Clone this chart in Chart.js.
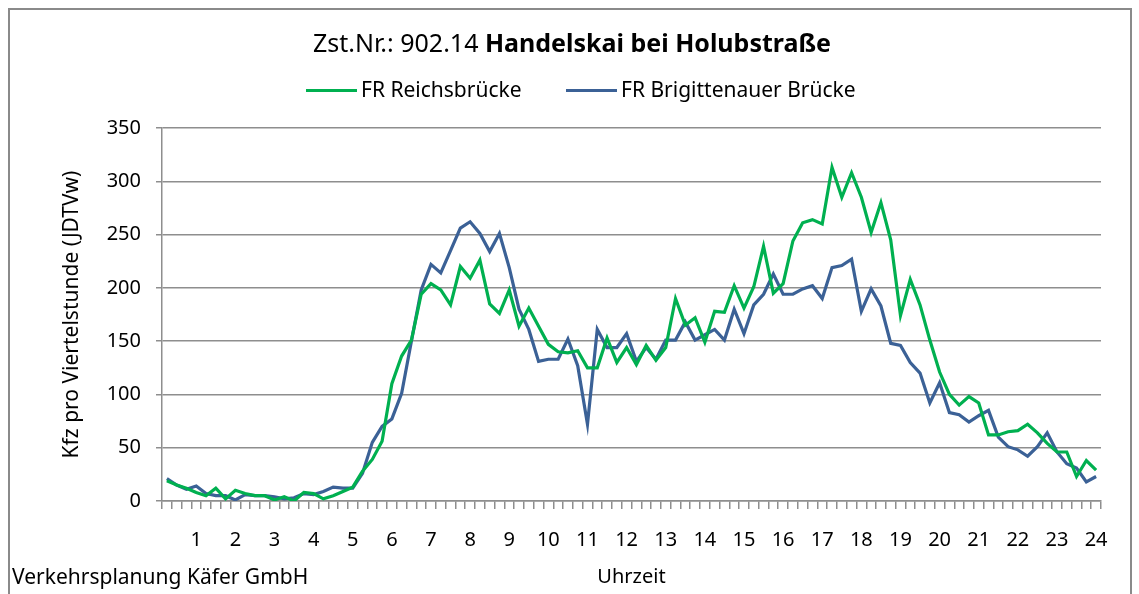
<!DOCTYPE html>
<html>
<head>
<meta charset="utf-8">
<script src="https://cdn.jsdelivr.net/npm/chart.js@4/dist/chart.umd.min.js"></script>
<style>
  html, body { margin: 0; padding: 0; background: #fff; }
  body { width: 1139px; height: 594px; position: relative; overflow: hidden; font-family: "Noto Sans", sans-serif; }
  #frame { position: absolute; left: 8px; top: 8px; width: 1124px; height: 600px; border: 2px solid #8a8a8a; box-sizing: border-box; }
  #chart { position: absolute; left: 0; top: 0; }
  #title { position: absolute; left: 0; width: 1144px; top: 25px; line-height: 34px; text-align: center; font-size: 25px; color: #000; }
  .leg { position: absolute; top: 75px; line-height: 28px; font-size: 21px; color: #000; white-space: nowrap; }
  .leg span.ln { display: inline-block; width: 51px; height: 3px; vertical-align: middle; margin-right: 4px; margin-top: -2px; }
  #source { position: absolute; left: 12px; top: 562px; line-height: 28px; font-size: 21px; color: #000; }
</style>
</head>
<body>
<div id="frame"></div>
<canvas id="chart" width="1139" height="594"></canvas>
<div id="title">Zst.Nr.: 902.14 <b>Handelskai bei Holubstraße</b></div>
<div class="leg" style="left:306px"><span class="ln" style="background:#00b050"></span>FR Reichsbrücke</div>
<div class="leg" style="left:566px"><span class="ln" style="background:#3b6196"></span>FR Brigittenauer Brücke</div>
<div id="source">Verkehrsplanung Käfer GmbH</div>
<script>
// Hour labels shown under every fourth quarter-hour
const hourLabels = ['1','2','3','4','5','6','7','8','9','10','11','12','13','14','15','16','17','18','19','20','21','22','23','24'];

// Vehicles per quarter hour, 0:15 ... 24:00
const reichsbruecke = [
  19, 15, 12, 8, 5, 12, 2, 10, 7, 5, 5, 1, 4, 0, 8, 7, 2, 5, 9, 13, 28, 39, 56, 110,
  136, 151, 194, 204, 198, 184, 220, 209, 226, 185, 176, 198, 164, 181, 164, 147, 140, 139, 141, 125,
  125, 153, 130, 144, 128, 146, 132, 144, 190, 165, 172, 149, 178, 177, 202, 181, 201, 239, 195, 204,
  244, 261, 264, 260, 313, 285, 308, 285, 252, 280, 245, 174, 208, 184, 151, 121, 100, 90, 98, 92,
  62, 62, 65, 66, 72, 64, 54, 46, 46, 23, 38, 29
];
const brigittenauer = [
  21, 15, 11, 14, 7, 5, 5, 1, 6, 5, 5, 4, 2, 3, 7, 6, 9, 13, 12, 12, 26, 55, 70, 77,
  101, 150, 198, 222, 214, 235, 256, 262, 251, 234, 251, 219, 180, 161, 131, 133, 133, 152, 127, 72,
  161, 144, 144, 157, 131, 144, 133, 151, 151, 168, 151, 156, 161, 151, 180, 157, 184, 194, 213, 194,
  194, 199, 202, 190, 219, 221, 227, 178, 199, 183, 148, 146, 130, 120, 92, 111, 83, 81, 74, 80,
  85, 60, 51, 48, 42, 51, 64, 46, 35, 31, 18, 23
];

// 96 quarter-hour categories
const quarters = reichsbruecke.map((v, i) => i);

const gridGray = '#8e8e8e';
const fontFamily = '"Noto Sans", sans-serif';

const ctx = document.getElementById('chart').getContext('2d');
new Chart(ctx, {
    type: 'line',
    data: {
        labels: quarters,
        datasets: [{
            label: 'FR Reichsbrücke',
            data: reichsbruecke,
            borderColor: '#00b050',
            borderWidth: 3.2,
            pointRadius: 0,
            tension: 0,
            fill: false
        }, {
            label: 'FR Brigittenauer Brücke',
            data: brigittenauer,
            borderColor: '#3b6196',
            borderWidth: 3.2,
            pointRadius: 0,
            tension: 0,
            fill: false
        }]
    },
    options: {
        responsive: false,
        animation: false,
        layout: { padding: { top: 128, right: 38, left: 0, bottom: 0 } },
        plugins: {
            legend: { display: false },
            title: { display: false },
            tooltip: { enabled: false }
        },
        scales: {
            x: {
                offset: true,
                grid: {
                    offset: true,
                    drawOnChartArea: false,
                    drawTicks: true,
                    tickLength: 8,
                    color: gridGray,
                    lineWidth: 1.5
                },
                border: { color: gridGray, width: 1.5 },
                ticks: {
                    autoSkip: false,
                    maxRotation: 0,
                    padding: 19,
                    color: '#000',
                    font: { family: fontFamily, size: 20 },
                    callback: (val, index) => (index % 4 === 3 ? hourLabels[(index + 1) / 4 - 1] : '')
                },
                title: {
                    display: true,
                    text: 'Uhrzeit',
                    color: '#000',
                    font: { family: fontFamily, size: 20 },
                    padding: { top: 0, bottom: 5 }
                },
                afterFit: scale => { scale.height = 93; }
            },
            y: {
                min: 0,
                max: 350,
                ticks: {
                    stepSize: 50,
                    padding: 15,
                    color: '#000',
                    font: { family: fontFamily, size: 20 }
                },
                grid: {
                    color: gridGray,
                    lineWidth: 1.5,
                    tickLength: 6
                },
                border: { color: gridGray, width: 1.5 },
                title: {
                    display: true,
                    text: 'Kfz pro Viertelstunde (JDTVw)',
                    color: '#000',
                    font: { family: fontFamily, size: 21 },
                    padding: { top: 59, bottom: 0 }
                },
                afterFit: scale => { scale.width = 162; }
            }
        }
    }
});
</script>
</body>
</html>
